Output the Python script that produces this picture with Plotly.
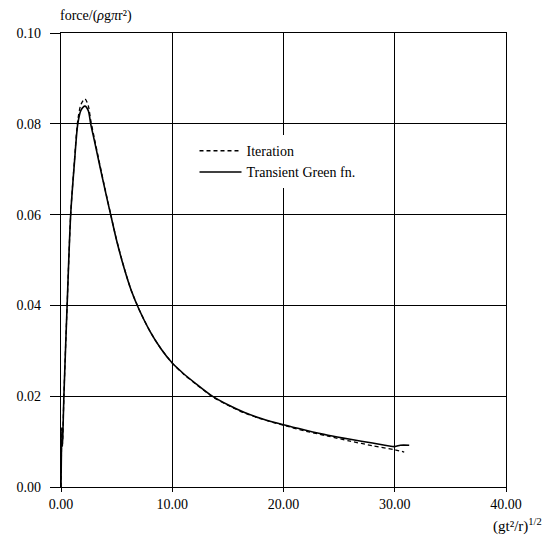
import plotly.graph_objects as go

# Transient Green function (solid)
t_green = [0, 0.08, 0.12, 0.16, 0.26, 0.55, 0.87, 1.2, 1.51, 1.8, 2.15, 2.45, 2.67,
           3.0, 3.5, 4.0, 4.5, 5.0, 5.65, 6.3, 7.0, 8.0, 9.0, 10.0, 11.0, 12.0, 13.6,
           15.0, 16.5, 18.0, 20.0, 22.0, 24.0, 26.0, 28.0, 30.0, 30.5, 31.3]
f_green = [0, 0.013, 0.009, 0.011, 0.02, 0.04, 0.06, 0.0712, 0.0800, 0.0830, 0.0839,
           0.0829, 0.0800, 0.0763, 0.0706, 0.0650, 0.0596, 0.0543, 0.0484, 0.0434,
           0.0392, 0.0343, 0.0304, 0.0273, 0.0250, 0.0230, 0.0200, 0.0181, 0.0164,
           0.0151, 0.0137, 0.0125, 0.0114, 0.0105, 0.0097, 0.0089, 0.0092, 0.0092]

# Iteration (dashed)
t_iter = [0, 0.08, 0.12, 0.16, 0.26, 0.55, 0.87, 1.2, 1.51, 1.8, 2.15, 2.45, 2.67,
          3.0, 3.5, 4.0, 4.5, 5.0, 5.65, 6.3, 7.0, 8.0, 9.0, 10.0, 11.0, 12.0, 13.6,
          15.0, 16.5, 18.0, 20.0, 22.0, 24.0, 26.0, 28.0, 30.0, 30.85]
f_iter = [0, 0.013, 0.009, 0.011, 0.02, 0.04, 0.06, 0.0716, 0.0808, 0.0843, 0.0855,
          0.0840, 0.0808, 0.0768, 0.0709, 0.0652, 0.0597, 0.0544, 0.0485, 0.0434,
          0.0392, 0.0343, 0.0304, 0.0273, 0.0249, 0.0229, 0.0199, 0.0180, 0.0163,
          0.0150, 0.0136, 0.0123, 0.0112, 0.0101, 0.0091, 0.0082, 0.0077]

x_ticks = [0, 10, 20, 30, 40]
x_labels = ["0.00", "10.00", "20.00", "30.00", "40.00"]
y_ticks = [0, 0.02, 0.04, 0.06, 0.08, 0.10]
y_labels = ["0.00", "0.02", "0.04", "0.06", "0.08", "0.10"]

FONT = "Liberation Serif, Times New Roman, serif"

fig = go.Figure()
fig.add_trace(go.Scatter(x=t_iter, y=f_iter, mode="lines", name="Iteration",
                         line=dict(color="black", width=1.3, dash="4px,3px",
                                   shape="spline", smoothing=0.8)))
fig.add_trace(go.Scatter(x=t_green, y=f_green, mode="lines", name="Transient Green fn.",
                         line=dict(color="black", width=1.6,
                                   shape="spline", smoothing=0.8)))

fig.update_layout(
    width=545, height=535,
    margin=dict(l=61, r=39, t=33, b=48),
    paper_bgcolor="white", plot_bgcolor="white",
    font=dict(family=FONT, size=14, color="black"),
    showlegend=True,
    legend=dict(x=0.30, y=0.775, xanchor="left", yanchor="top",
                bgcolor="white", borderwidth=0,
                font=dict(family=FONT, size=14, color="black"),
                tracegroupgap=0, itemwidth=42),
    xaxis=dict(range=[0, 40], tickvals=x_ticks, ticktext=x_labels,
               showgrid=True, gridcolor="black", gridwidth=1.2,
               showline=True, linecolor="black", linewidth=1.4, mirror=True,
               ticks="outside", ticklen=4, tickcolor="black",
               zeroline=False, tickfont=dict(family=FONT, size=14)),
    yaxis=dict(range=[0, 0.10], tickvals=y_ticks, ticktext=y_labels,
               showgrid=True, gridcolor="black", gridwidth=1.2,
               showline=True, linecolor="black", linewidth=1.4, mirror=True,
               ticks="outside", ticklen=10, tickcolor="black",
               ticklabelstandoff=6,
               zeroline=False, tickfont=dict(family=FONT, size=14)),
    annotations=[
        dict(text="force/(<i>ρ</i>g<i>π</i>r²)", xref="paper", yref="paper",
             x=0, y=1, xshift=-3, yshift=7, xanchor="left", yanchor="bottom",
             showarrow=False, font=dict(family=FONT, size=14)),
        dict(text="(gt²/r)<sup>1/2</sup>", xref="paper", yref="paper",
             x=1, y=0, xshift=38, yshift=-27, xanchor="right", yanchor="top",
             showarrow=False, font=dict(family=FONT, size=15)),
    ],
)

fig.write_html("out.html")
